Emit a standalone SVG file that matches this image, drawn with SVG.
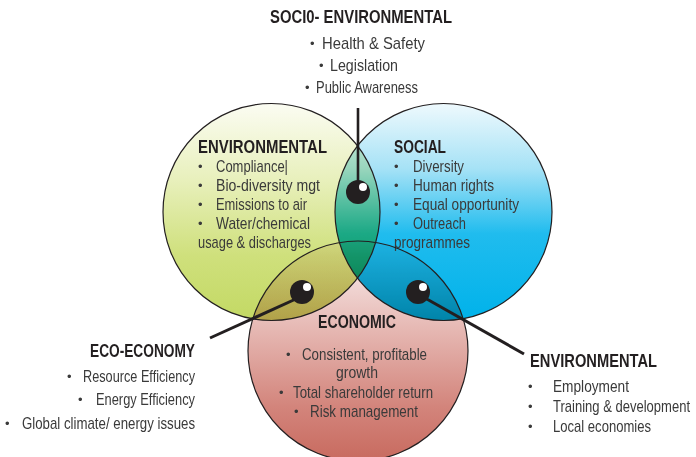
<svg xmlns="http://www.w3.org/2000/svg" width="696" height="457" viewBox="0 0 696 457">
<style>
.t{font-family:"Liberation Sans",Arial,sans-serif;font-weight:bold;font-size:19px;fill:#231f20}
.x{font-family:"Liberation Sans",Arial,sans-serif;font-size:17px;fill:#3a3a3a}
.b{font-family:"Liberation Sans",sans-serif;font-size:13px;fill:#3a3a3a}
.ring{fill:none;stroke:#231f20;stroke-width:1.2}
.fill{mix-blend-mode:multiply}
.dot{fill:#231f20}
.hl{fill:#ffffff}
.conn{stroke:#231f20;stroke-width:3;fill:none}
</style>
<defs>
<linearGradient id="gGreen" x1="0" y1="0" x2="0" y2="1">
<stop offset="0" stop-color="#fbfcf2"/>
<stop offset="0.35" stop-color="#e8f0bc"/>
<stop offset="0.7" stop-color="#cfe07c"/>
<stop offset="1" stop-color="#c3d964"/>
</linearGradient>
<linearGradient id="gBlue" x1="0" y1="0" x2="0" y2="1">
<stop offset="0" stop-color="#eef9fd"/>
<stop offset="0.3" stop-color="#a6e2f6"/>
<stop offset="0.6" stop-color="#20bcee"/>
<stop offset="1" stop-color="#00b2ea"/>
</linearGradient>
<linearGradient id="gRed" x1="0" y1="0" x2="0" y2="1">
<stop offset="0" stop-color="#fbf3f3"/>
<stop offset="0.4" stop-color="#e6b8b3"/>
<stop offset="0.75" stop-color="#d3857c"/>
<stop offset="1" stop-color="#c86a5f"/>
</linearGradient>
</defs>
<rect x="0" y="0" width="696" height="457" fill="#ffffff"/>
<g id="venn-fills">
<circle class="fill" cx="271.5" cy="212" r="108.5" fill="url(#gGreen)"/>
<circle class="fill" cx="443.5" cy="212" r="108.5" fill="url(#gBlue)"/>
<circle class="fill" cx="358" cy="351" r="110" fill="url(#gRed)"/>
</g>
<g id="connectors">
<line class="conn" x1="358" y1="108" x2="358" y2="186" style="stroke-width:2.6"/>
<line class="conn" x1="298" y1="298" x2="210" y2="338"/>
<line class="conn" x1="425" y1="298" x2="524" y2="354"/>
<circle class="dot" cx="358" cy="192" r="12"/>
<circle class="hl" cx="363" cy="187" r="4"/>
<circle class="dot" cx="302" cy="292" r="12"/>
<circle class="hl" cx="307" cy="287" r="4"/>
<circle class="dot" cx="418" cy="292" r="12"/>
<circle class="hl" cx="423" cy="287" r="4"/>
</g>
<g id="node-environmental">
<circle class="ring" cx="271.5" cy="212" r="108.5"/>
<text class="t" x="198" y="153" textLength="129" lengthAdjust="spacingAndGlyphs">ENVIRONMENTAL</text>
<text class="b" x="198" y="171">•</text><text class="x" x="216" y="172" textLength="72" lengthAdjust="spacingAndGlyphs">Compliance|</text>
<text class="b" x="198" y="190">•</text><text class="x" x="216" y="191" textLength="104" lengthAdjust="spacingAndGlyphs">Bio-diversity mgt</text>
<text class="b" x="198" y="209">•</text><text class="x" x="216" y="210" textLength="91" lengthAdjust="spacingAndGlyphs">Emissions to air</text>
<text class="b" x="198" y="228">•</text><text class="x" x="216" y="229" textLength="94" lengthAdjust="spacingAndGlyphs">Water/chemical</text>
<text class="x" x="198" y="248" textLength="113" lengthAdjust="spacingAndGlyphs">usage &amp; discharges</text>
</g>
<g id="node-social">
<circle class="ring" cx="443.5" cy="212" r="108.5"/>
<text class="t" x="394" y="153" textLength="52" lengthAdjust="spacingAndGlyphs">SOCIAL</text>
<text class="b" x="394" y="171">•</text><text class="x" x="413" y="172" textLength="51" lengthAdjust="spacingAndGlyphs">Diversity</text>
<text class="b" x="394" y="190">•</text><text class="x" x="413" y="191" textLength="81" lengthAdjust="spacingAndGlyphs">Human rights</text>
<text class="b" x="394" y="209">•</text><text class="x" x="413" y="210" textLength="106" lengthAdjust="spacingAndGlyphs">Equal opportunity</text>
<text class="b" x="394" y="228">•</text><text class="x" x="413" y="229" textLength="53" lengthAdjust="spacingAndGlyphs">Outreach</text>
<text class="x" x="394" y="248" textLength="76" lengthAdjust="spacingAndGlyphs">programmes</text>
</g>
<g id="node-economic">
<circle class="ring" cx="358" cy="351" r="110"/>
<text class="t" x="318" y="328" textLength="78" lengthAdjust="spacingAndGlyphs">ECONOMIC</text>
<text class="b" x="286" y="359">•</text><text class="x" x="302" y="360" textLength="125" lengthAdjust="spacingAndGlyphs">Consistent, profitable</text>
<text class="x" x="336" y="378" textLength="42" lengthAdjust="spacingAndGlyphs">growth</text>
<text class="b" x="279" y="397">•</text><text class="x" x="293" y="398" textLength="140" lengthAdjust="spacingAndGlyphs">Total shareholder return</text>
<text class="b" x="294" y="416">•</text><text class="x" x="310" y="417" textLength="108" lengthAdjust="spacingAndGlyphs">Risk management</text>
</g>
<g id="node-socio-environmental">
<text class="t" x="270" y="23" textLength="182" lengthAdjust="spacingAndGlyphs">SOCI0- ENVIRONMENTAL</text>
<text class="b" x="310" y="48">•</text><text class="x" x="322" y="49" textLength="103" lengthAdjust="spacingAndGlyphs">Health &amp; Safety</text>
<text class="b" x="319" y="70">•</text><text class="x" x="330" y="71" textLength="68" lengthAdjust="spacingAndGlyphs">Legislation</text>
<text class="b" x="305" y="92">•</text><text class="x" x="316" y="93" textLength="102" lengthAdjust="spacingAndGlyphs">Public Awareness</text>
</g>
<g id="node-eco-economy">
<text class="t" x="90" y="357" textLength="105" lengthAdjust="spacingAndGlyphs">ECO-ECONOMY</text>
<text class="b" x="67" y="381">•</text><text class="x" x="83" y="382" textLength="112" lengthAdjust="spacingAndGlyphs">Resource Efficiency</text>
<text class="b" x="78" y="404">•</text><text class="x" x="96" y="405" textLength="99" lengthAdjust="spacingAndGlyphs">Energy Efficiency</text>
<text class="b" x="5" y="428">•</text><text class="x" x="22" y="429" textLength="173" lengthAdjust="spacingAndGlyphs">Global climate/ energy issues</text>
</g>
<g id="node-environmental-right">
<text class="t" x="530" y="367" textLength="127" lengthAdjust="spacingAndGlyphs">ENVIRONMENTAL</text>
<text class="b" x="528" y="391">•</text><text class="x" x="553" y="392" textLength="76" lengthAdjust="spacingAndGlyphs">Employment</text>
<text class="b" x="528" y="411">•</text><text class="x" x="553" y="412" textLength="137" lengthAdjust="spacingAndGlyphs">Training &amp; development</text>
<text class="b" x="528" y="431">•</text><text class="x" x="553" y="432" textLength="98" lengthAdjust="spacingAndGlyphs">Local economies</text>
</g>
</svg>
